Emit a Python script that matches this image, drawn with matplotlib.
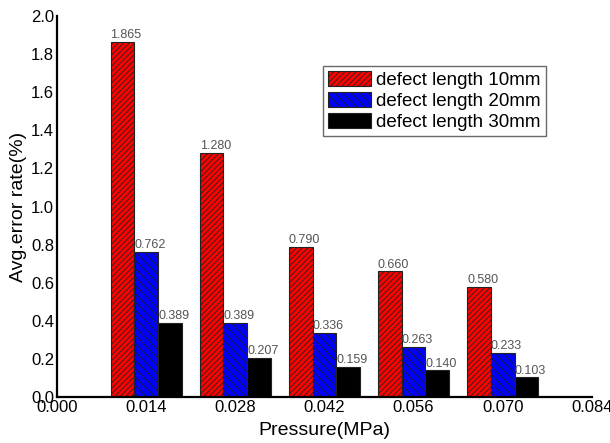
import numpy as np
import matplotlib
matplotlib.use("Agg")
import matplotlib.pyplot as plt

plt.rcParams['font.family'] = ['Liberation Sans', 'DejaVu Sans']
plt.rcParams['hatch.linewidth'] = 0.6

pressure = [0.014, 0.028, 0.042, 0.056, 0.070]
len10 = [1.865, 1.280, 0.790, 0.660, 0.580]
len20 = [0.762, 0.389, 0.336, 0.263, 0.233]
len30 = [0.389, 0.207, 0.159, 0.140, 0.103]
series_names = ['defect length 10mm', 'defect length 20mm', 'defect length 30mm']
x_ticks = [0.000, 0.014, 0.028, 0.042, 0.056, 0.070, 0.084]

fig = plt.figure(figsize=(6.1, 4.43), dpi=100)
ax = fig.add_axes([0.0934, 0.1038, 0.877, 0.86])

w = 0.00373
x = np.array(pressure)
styles = [('#ff0000', '//////'), ('#0000ff', '\\\\\\\\'), ('#000000', None)]
for i, (vals, name) in enumerate(zip([len10, len20, len30], series_names)):
    color, hatch = styles[i]
    pos = x + (i - 1) * w
    ax.bar(pos, vals, width=w, color=color, edgecolor='#222222', linewidth=0.8,
           hatch=hatch, label=name)
    for p, v in zip(pos, vals):
        ax.text(p - w / 2, v + 0.004, f'{v:.3f}', ha='left', va='bottom',
                fontsize=9, color='#555555')

ax.set_xlim(0, 0.084)
ax.set_ylim(0, 2.0)
ax.set_xticks(x_ticks)
ax.set_xticklabels([f'{t:.3f}' for t in x_ticks])
ax.set_yticks(np.arange(0, 2.01, 0.2))
ax.set_yticklabels([f'{t:.1f}' for t in np.arange(0, 2.01, 0.2)])
ax.tick_params(length=0, labelsize=12, pad=2)
ax.spines['top'].set_visible(False)
ax.spines['right'].set_visible(False)
ax.spines['left'].set_linewidth(1.6)
ax.spines['bottom'].set_linewidth(1.6)

ax.set_xlabel('Pressure(MPa)', fontsize=14, labelpad=5)
ax.set_ylabel('Avg.error rate(%)', fontsize=14, labelpad=3)

leg = ax.legend(loc='upper left', bbox_to_anchor=(0.497, 0.869), fontsize=13.5,
                frameon=True, fancybox=False, edgecolor='#444444',
                handlelength=2.3, handleheight=0.9, labelspacing=0.15,
                borderpad=0.25, handletextpad=0.3, borderaxespad=0)
leg.get_frame().set_linewidth(1.0)

fig.savefig('out.png', dpi=100)
